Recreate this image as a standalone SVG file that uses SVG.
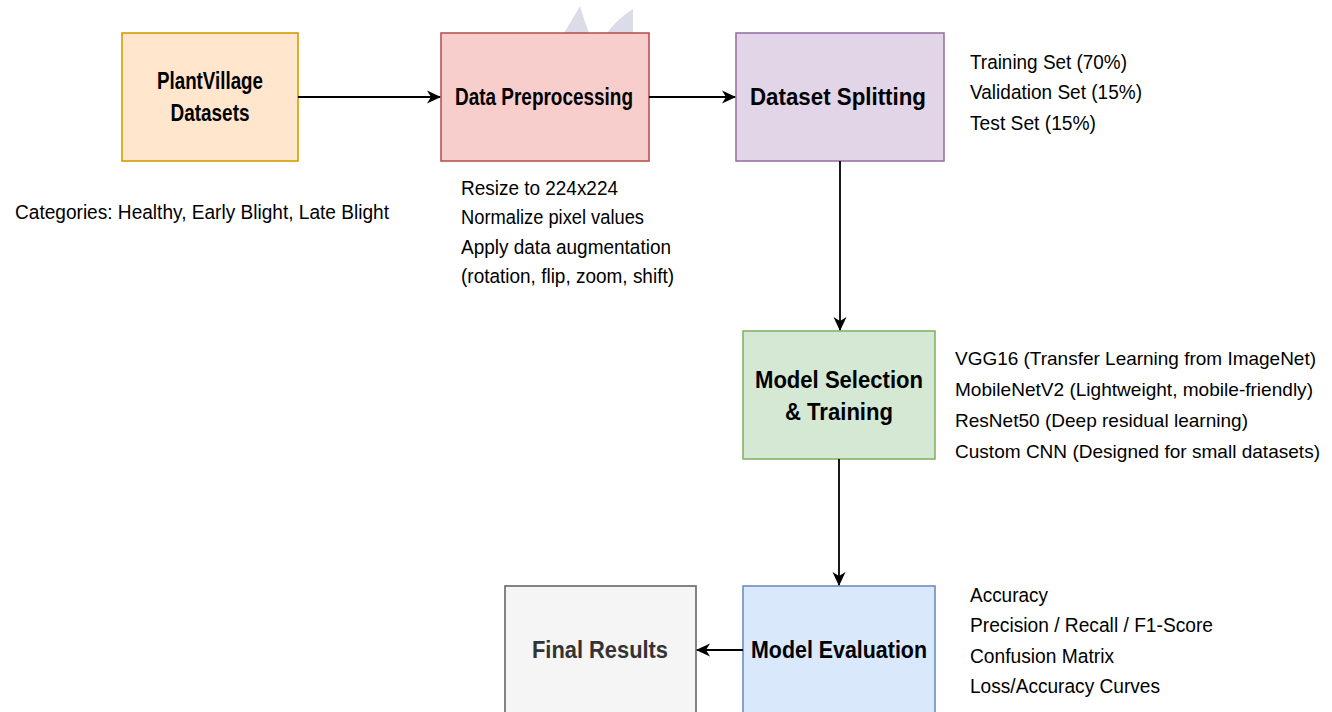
<svg xmlns="http://www.w3.org/2000/svg" width="1332" height="712" viewBox="0 0 1332 712">
  <style>
    .box { stroke-width: 1.6; }
    .title { font-family: "Liberation Sans", Arial, sans-serif; font-weight: bold; font-size: 23px; fill: #000; text-anchor: middle; }
    .note { font-family: "Liberation Sans", Arial, sans-serif; font-size: 20.5px; fill: #000; }
    .note.tight { font-size: 19px; }
    .edge { fill: none; stroke: #000; stroke-width: 1.8; }
  </style>
  <defs>
    <marker id="arrow" viewBox="0 0 14 14" refX="13" refY="7" markerWidth="14" markerHeight="14" markerUnits="userSpaceOnUse" orient="auto">
      <path d="M0,0.5 L14,7 L0,13.5 L4,7 Z" fill="#000"/>
    </marker>
  </defs>

  <rect width="1332" height="712" fill="#ffffff"/>

  <!-- faint mark peeking above the preprocessing box -->
  <g id="mark" fill="#dcdce8">
    <path d="M580,6 Q584,20 589,33 L564,33 Q572,20 580,6 Z"/>
    <path d="M633,9 L633,33 L607,33 Q618,18 633,9 Z"/>
  </g>

  <g id="plantvillage">
    <rect class="box" x="122" y="33" width="176" height="128" fill="#ffe6cc" stroke="#d79b00"/>
    <text class="title" x="210" y="89" textLength="106" lengthAdjust="spacingAndGlyphs">PlantVillage</text>
    <text class="title" x="210" y="121" textLength="79" lengthAdjust="spacingAndGlyphs">Datasets</text>
  </g>

  <g id="categories">
    <text class="note" x="15" y="219" textLength="374" lengthAdjust="spacingAndGlyphs">Categories: Healthy, Early Blight, Late Blight</text>
  </g>

  <g id="preprocessing">
    <rect class="box" x="441" y="33" width="208" height="128" fill="#f8cecc" stroke="#b85450"/>
    <text class="title" x="544" y="105" textLength="178" lengthAdjust="spacingAndGlyphs">Data Preprocessing</text>
  </g>

  <g id="preprocessing-notes">
    <text class="note" x="461" y="195" textLength="157" lengthAdjust="spacingAndGlyphs">Resize to 224x224</text>
    <text class="note" x="461" y="224" textLength="183" lengthAdjust="spacingAndGlyphs">Normalize pixel values</text>
    <text class="note" x="461" y="254" textLength="210" lengthAdjust="spacingAndGlyphs">Apply data augmentation</text>
    <text class="note" x="461" y="283" textLength="213" lengthAdjust="spacingAndGlyphs">(rotation, flip, zoom, shift)</text>
  </g>

  <g id="splitting">
    <rect class="box" x="736" y="33" width="208" height="128" fill="#e1d5e7" stroke="#9673a6"/>
    <text class="title" x="838" y="105" textLength="176" lengthAdjust="spacingAndGlyphs">Dataset Splitting</text>
  </g>

  <g id="splitting-notes">
    <text class="note" x="970" y="69" textLength="157" lengthAdjust="spacingAndGlyphs">Training Set (70%)</text>
    <text class="note" x="970" y="99" textLength="172" lengthAdjust="spacingAndGlyphs">Validation Set (15%)</text>
    <text class="note" x="970" y="130" textLength="126" lengthAdjust="spacingAndGlyphs">Test Set (15%)</text>
  </g>

  <g id="model-training">
    <rect class="box" x="743" y="331" width="192" height="128" fill="#d5e8d4" stroke="#82b366"/>
    <text class="title" x="839" y="388" textLength="168" lengthAdjust="spacingAndGlyphs">Model Selection</text>
    <text class="title" x="839" y="420" textLength="108" lengthAdjust="spacingAndGlyphs">&amp; Training</text>
  </g>

  <g id="model-notes">
    <text class="note tight" x="955" y="365" textLength="361" lengthAdjust="spacingAndGlyphs">VGG16 (Transfer Learning from ImageNet)</text>
    <text class="note tight" x="955" y="396" textLength="358" lengthAdjust="spacingAndGlyphs">MobileNetV2 (Lightweight, mobile-friendly)</text>
    <text class="note tight" x="955" y="427" textLength="293" lengthAdjust="spacingAndGlyphs">ResNet50 (Deep residual learning)</text>
    <text class="note tight" x="955" y="458" textLength="365" lengthAdjust="spacingAndGlyphs">Custom CNN (Designed for small datasets)</text>
  </g>

  <g id="evaluation">
    <rect class="box" x="743" y="586" width="192" height="140" fill="#dae8fc" stroke="#6c8ebf"/>
    <text class="title" x="839" y="658" textLength="176" lengthAdjust="spacingAndGlyphs">Model Evaluation</text>
  </g>

  <g id="evaluation-notes">
    <text class="note" x="970" y="602" textLength="78" lengthAdjust="spacingAndGlyphs">Accuracy</text>
    <text class="note" x="970" y="632" textLength="243" lengthAdjust="spacingAndGlyphs">Precision / Recall / F1-Score</text>
    <text class="note" x="970" y="663" textLength="144" lengthAdjust="spacingAndGlyphs">Confusion Matrix</text>
    <text class="note" x="970" y="693" textLength="190" lengthAdjust="spacingAndGlyphs">Loss/Accuracy Curves</text>
  </g>

  <g id="final-results">
    <rect class="box" x="505" y="586" width="191" height="140" fill="#f5f5f5" stroke="#666666"/>
    <text class="title" x="600" y="658" textLength="136" lengthAdjust="spacingAndGlyphs" style="fill:#333333">Final Results</text>
  </g>

  <g id="connectors">
    <path class="edge" d="M298,97 L440,97" marker-end="url(#arrow)"/>
    <path class="edge" d="M649,97 L735,97" marker-end="url(#arrow)"/>
    <path class="edge" d="M840,161 L840,330" marker-end="url(#arrow)"/>
    <path class="edge" d="M839,459 L839,585" marker-end="url(#arrow)"/>
    <path class="edge" d="M743,650 L697,650" marker-end="url(#arrow)"/>
  </g>
</svg>
